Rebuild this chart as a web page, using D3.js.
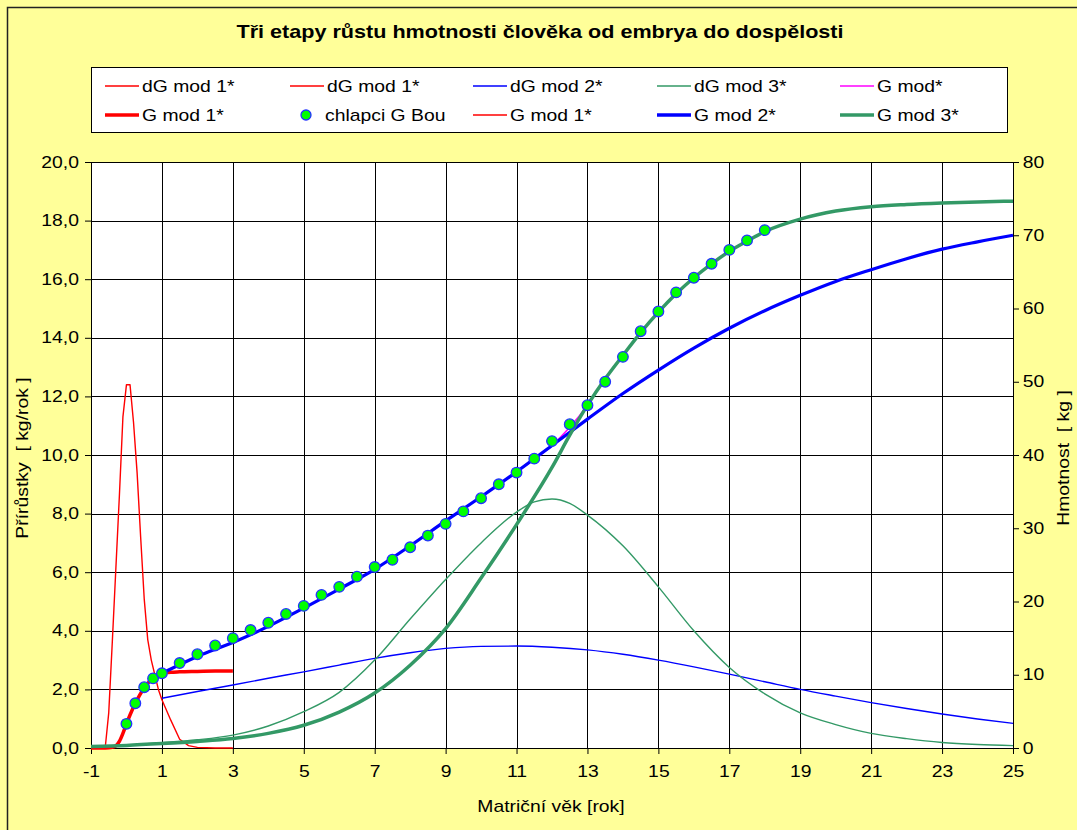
<!DOCTYPE html>
<html>
<head>
<meta charset="utf-8">
<script src="https://cdn.jsdelivr.net/npm/d3@7"></script>
<style>
  html, body { margin: 0; padding: 0; background: #FFFF99; }
  svg { display: block; }
  text { font-family: "Liberation Sans", Arial, sans-serif; fill: #000; }
</style>
</head>
<body>
<svg id="chart" width="1077" height="830"></svg>
<script>
// ---------------- data ----------------
const chartTitle = "Tři etapy růstu hmotnosti člověka od embrya do dospělosti";
const xAxisTitle = "Matriční věk [rok]";
const yLeftTitle = "Přírůstky  [ kg/rok ]";
const yRightTitle = "Hmotnost  [ kg ]";

const xTicks = [-1, 1, 3, 5, 7, 9, 11, 13, 15, 17, 19, 21, 23, 25];
const yLeftTicks = [0, 2, 4, 6, 8, 10, 12, 14, 16, 18, 20];
const yRightTicks = [0, 10, 20, 30, 40, 50, 60, 70, 80];

// model 1 (embryo / fetus): growth rate [kg/rok] and weight [kg]
const ageDG1 = [-1, -0.8, -0.6, -0.5, -0.4, -0.3, -0.2, -0.1, 0, 0.1, 0.2, 0.3, 0.4, 0.5, 0.6, 0.7, 0.8, 0.9, 1.0, 1.25, 1.5, 1.75, 2.0, 2.5, 3.0];
const dGMod1 = [0, 0, 0, 1.2, 3.6, 6.1, 8.6, 11.3, 12.4, 12.4, 11.1, 9.4, 7.2, 5.1, 3.7, 3.0, 2.5, 2.0, 1.65, 0.95, 0.3, 0.08, 0.02, 0, 0];
const ageG1 = [-1, -0.8, -0.6, -0.4, -0.3, -0.2, -0.1, 0, 0.1, 0.25, 0.5, 0.75, 1.0, 1.25, 1.5, 2.0, 2.5, 3.0];
const gMod1 = [0, 0, 0, 0.1, 0.3, 0.9, 2.0, 3.3, 4.5, 6.1, 8.2, 9.5, 10.15, 10.35, 10.4, 10.45, 10.5, 10.5];

// model 2 (childhood)
const ageMod2 = [1, 2, 3, 4, 5, 6, 7, 8, 9, 10, 11, 12, 13, 14, 15, 16, 17, 18, 19, 20, 21, 22, 23, 24, 25];
const dGMod2 = [1.7, 1.93, 2.15, 2.38, 2.6, 2.83, 3.06, 3.25, 3.4, 3.47, 3.48, 3.44, 3.35, 3.2, 3.0, 2.77, 2.52, 2.26, 2.0, 1.77, 1.55, 1.35, 1.16, 0.99, 0.84];
const gMod2 = [10.2, 12.5, 14.4, 16.6, 19.1, 21.7, 24.4, 27.6, 31.0, 34.3, 37.7, 41.3, 44.9, 48.4, 51.6, 54.6, 57.3, 59.7, 61.8, 63.7, 65.3, 66.8, 68.1, 69.1, 70.0];

// model 3 (puberty)
const ageDG3 = [-1, 0, 1, 2, 3, 4, 5, 6, 7, 8, 9, 10, 11, 11.5, 12, 12.5, 13, 14, 15, 16, 17, 18, 19, 20, 21, 22, 23, 24, 25];
const dGMod3 = [0.05, 0.1, 0.18, 0.28, 0.44, 0.75, 1.24, 1.9, 3.0, 4.4, 5.75, 7.0, 8.05, 8.4, 8.5, 8.35, 7.95, 6.9, 5.5, 4.0, 2.75, 1.85, 1.2, 0.8, 0.5, 0.32, 0.19, 0.12, 0.08];
const ageG3 = [-1, 0, 1, 2, 3, 4, 5, 6, 7, 8, 9, 10, 11, 12, 12.5, 13, 13.5, 14, 14.5, 15, 15.5, 16, 16.5, 17, 17.5, 18, 19, 20, 21, 22, 23, 24, 25];
const gMod3 = [0.2, 0.35, 0.6, 0.9, 1.3, 2.0, 3.1, 4.9, 7.5, 11.3, 16.3, 23.2, 30.5, 38.3, 42.7, 46.8, 50.4, 53.6, 56.7, 59.5, 62.0, 64.2, 66.1, 67.8, 69.2, 70.5, 72.2, 73.3, 73.9, 74.2, 74.4, 74.55, 74.65];

// measured weights of boys (Bou)
const ageBou = [0, 0.25, 0.5, 0.75, 1, 1.5, 2, 2.5, 3, 3.5, 4, 4.5, 5, 5.5, 6, 6.5, 7, 7.5, 8, 8.5, 9, 9.5, 10, 10.5, 11, 11.5, 12, 12.5, 13, 13.5, 14, 14.5, 15, 15.5, 16, 16.5, 17, 17.5, 18];
const gBou = [3.3, 6.1, 8.3, 9.5, 10.2, 11.6, 12.8, 14.0, 15.0, 16.1, 17.1, 18.3, 19.4, 20.9, 22.0, 23.4, 24.7, 25.7, 27.4, 29.0, 30.6, 32.3, 34.1, 36.0, 37.6, 39.5, 41.9, 44.2, 46.8, 50.0, 53.4, 56.9, 59.6, 62.2, 64.2, 66.1, 68.0, 69.3, 70.7];

// ---------------- layout ----------------
const W = 1077, H = 830;
const plot = { left: 91, right: 1013, top: 162, bottom: 748 };
const SX = 1.21;               // horizontal stretch of the lettering
const FONT = 16;

const svg = d3.select("#chart");

const x = d3.scaleLinear().domain([-1, 25]).range([plot.left, plot.right]);
const yL = d3.scaleLinear().domain([0, 20]).range([plot.bottom, plot.top]);
const yR = d3.scaleLinear().domain([0, 80]).range([plot.bottom, plot.top]);

// background + outer frame
svg.append("rect").attr("x", 0).attr("y", 0).attr("width", W).attr("height", H).attr("fill", "#FFFF99");
svg.append("rect").attr("x", 7.5).attr("y", 7.5).attr("width", W + 20).attr("height", H + 20)
  .attr("fill", "none").attr("stroke", "#222").attr("stroke-width", 1.5);

// plot area
svg.append("rect").attr("x", plot.left).attr("y", plot.top)
  .attr("width", plot.right - plot.left).attr("height", plot.bottom - plot.top).attr("fill", "#fff");

// grid
const crisp = v => Math.round(v) + 0.5;
const grid = svg.append("g").attr("stroke", "#000").attr("stroke-width", 1).attr("shape-rendering", "crispEdges");
grid.selectAll("line.h").data(yLeftTicks).join("line").attr("class", "h")
  .attr("x1", plot.left).attr("x2", plot.right)
  .attr("y1", d => crisp(yL(d))).attr("y2", d => crisp(yL(d)));
grid.selectAll("line.v").data(xTicks).join("line").attr("class", "v")
  .attr("y1", plot.top).attr("y2", plot.bottom)
  .attr("x1", d => crisp(x(d))).attr("x2", d => crisp(x(d)));

// axes
const fmtL = v => d3.format(".1f")(v).replace(".", ",");
const fmtInt = v => String(v);
function styleAxis(g) {
  g.select(".domain").attr("stroke", "#000").attr("stroke-width", 1);
  g.selectAll(".tick line").attr("stroke", "#000");
  g.selectAll("text").attr("font-size", FONT).attr("font-family", "Liberation Sans, Arial, sans-serif")
    .attr("fill", "#000").attr("transform", `scale(${SX},1)`);
}
svg.append("g").attr("transform", `translate(${plot.left},0)`)
  .call(d3.axisLeft(yL).tickValues(yLeftTicks).tickFormat(fmtL).tickSize(6).tickSizeOuter(0).tickPadding(4))
  .call(styleAxis);
svg.append("g").attr("transform", `translate(${plot.right},0)`)
  .call(d3.axisRight(yR).tickValues(yRightTicks).tickFormat(fmtInt).tickSize(6).tickSizeOuter(0).tickPadding(2))
  .call(styleAxis);
svg.append("g").attr("transform", `translate(0,${plot.bottom})`)
  .call(d3.axisBottom(x).tickValues(xTicks).tickFormat(fmtInt).tickSize(6).tickSizeOuter(0).tickPadding(12))
  .call(styleAxis);

// titles
function label(txt, tx, ty, opts = {}) {
  return svg.append("text")
    .attr("transform", `translate(${tx},${ty})` + (opts.rotate ? ` rotate(${opts.rotate})` : "") + ` scale(${opts.sx || SX},1)`)
    .attr("text-anchor", opts.anchor || "middle")
    .attr("font-size", opts.size || FONT)
    .attr("font-weight", opts.weight || "normal")
    .style("white-space", "pre")
    .text(txt);
}
label(chartTitle, 540, 38, { size: 18, weight: "bold", sx: 1.2 });
label(xAxisTitle, 551, 812);
label(yLeftTitle, 28, 458, { rotate: -90 });
label(yRightTitle, 1069, 458, { rotate: -90 });

// series
const plotArea = svg.append("g");
function drawLine(xs, ys, scale, color, width, curve) {
  const gen = d3.line().x((d, i) => x(xs[i])).y(d => scale(d)).curve(curve || d3.curveMonotoneX);
  plotArea.append("path").attr("d", gen(ys)).attr("fill", "none")
    .attr("stroke", color).attr("stroke-width", width).attr("stroke-linejoin", "round");
}

// combined weight model: model 1 until age 1, model 2 up to the crossing, model 3 after
const ageGAll = [], gAll = [];
ageG1.forEach((a, i) => { if (a < 1) { ageGAll.push(a); gAll.push(gMod1[i]); } });
ageMod2.forEach((a, i) => { if (a <= 12.5) { ageGAll.push(a); gAll.push(gMod2[i]); } });
ageG3.forEach((a, i) => { if (a > 12.5) { ageGAll.push(a); gAll.push(gMod3[i]); } });

const RED = "#FF0000", BLUE = "#0000FF", GREEN = "#339966", MAGENTA = "#FF00FF";

drawLine(ageDG1, dGMod1, yL, RED, 1.4, d3.curveLinear);
drawLine(ageMod2, dGMod2, yL, BLUE, 1.4);
drawLine(ageDG3, dGMod3, yL, GREEN, 1.4);
drawLine(ageGAll, gAll, yR, MAGENTA, 1.5);
drawLine(ageG1, gMod1, yR, RED, 3.5);
drawLine(ageMod2, gMod2, yR, BLUE, 3.2);
drawLine(ageG3, gMod3, yR, GREEN, 3.5);

plotArea.selectAll("circle.bou").data(gBou).join("circle").attr("class", "bou")
  .attr("cx", (d, i) => x(ageBou[i])).attr("cy", d => yR(d)).attr("r", 5.3)
  .attr("fill", "#00FF00").attr("stroke", "#2233FF").attr("stroke-width", 1.3);

// legend
const legendItems = [
  { name: "dG mod 1*", color: RED, w: 1.4 },
  { name: "dG mod 1*", color: RED, w: 1.4 },
  { name: "dG mod 2*", color: BLUE, w: 1.4 },
  { name: "dG mod 3*", color: GREEN, w: 1.4 },
  { name: "G mod*", color: MAGENTA, w: 1.5 },
  { name: "G mod 1*", color: RED, w: 3.5 },
  { name: "chlapci G Bou", marker: true },
  { name: "G mod 1*", color: RED, w: 1.4 },
  { name: "G mod 2*", color: BLUE, w: 3.5 },
  { name: "G mod 3*", color: GREEN, w: 3.5 }
];
const legCols = [105, 290, 473, 657, 840];
const legRows = [86, 115];
const legend = svg.append("g");
legend.append("rect").attr("x", 91.5).attr("y", 67.5).attr("width", 916).attr("height", 65)
  .attr("fill", "#fff").attr("stroke", "#000").attr("stroke-width", 1);
legendItems.forEach((it, i) => {
  const cx = legCols[i % 5], cy = legRows[Math.floor(i / 5)];
  if (it.marker) {
    legend.append("circle").attr("cx", cx + 16).attr("cy", cy).attr("r", 5)
      .attr("fill", "#00FF00").attr("stroke", "#2233FF").attr("stroke-width", 1.3);
  } else {
    legend.append("line").attr("x1", cx).attr("x2", cx + 34).attr("y1", cy).attr("y2", cy)
      .attr("stroke", it.color).attr("stroke-width", it.w);
  }
  legend.append("text").attr("transform", `translate(${cx + (it.marker ? 35 : 37)},${cy + 6}) scale(${SX},1)`)
    .attr("font-size", FONT).text(it.name);
});
</script>
</body>
</html>
